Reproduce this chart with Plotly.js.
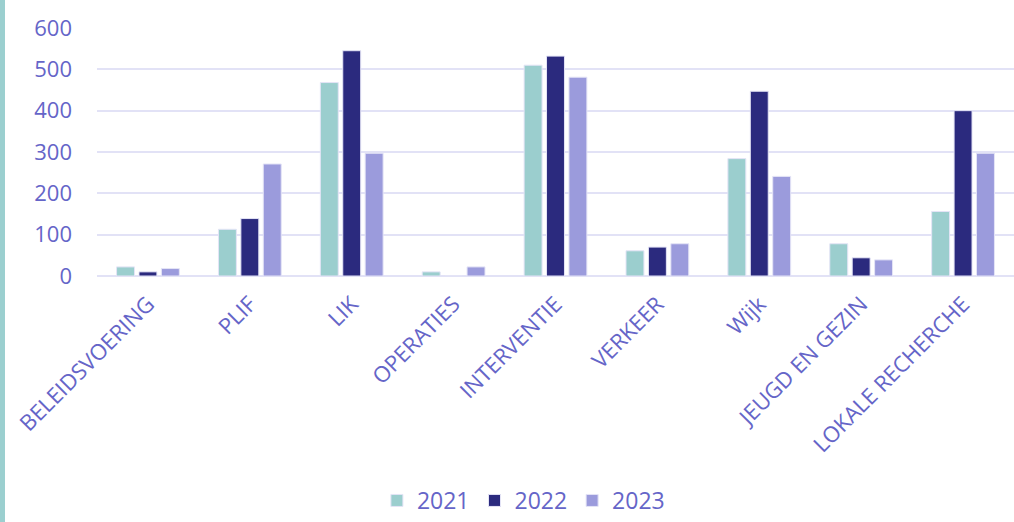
<!DOCTYPE html>
<html>
<head>
<meta charset="utf-8">
<script src="https://cdn.plot.ly/plotly-3.0.1.min.js"></script>
<style>
  html, body { margin: 0; padding: 0; background: #ffffff; }
  #chart { width: 1014px; height: 522px; }
  #edge { position: absolute; left: 0; top: 0; width: 5px; height: 522px; background: #9BCFCF; z-index: 10; }
</style>
</head>
<body>
<div id="edge"></div>
<div id="chart"></div>
<script>
const categories = ["BELEIDSVOERING", "PLIF", "LIK", "OPERATIES", "INTERVENTIE", "VERKEER", "Wijk", "JEUGD EN GEZIN", "LOKALE RECHERCHE"];
const values2021 = [22, 113, 468, 10, 510, 61, 284, 78, 156];
const values2022 = [10, 139, 545, 0, 532, 70, 447, 44, 400];
const values2023 = [18, 271, 297, 22, 481, 78, 241, 39, 297];
const seriesNames = ["2021", "2022", "2023"];
const yTicks = [0, 100, 200, 300, 400, 500, 600];

const colors = ["#9BCECE", "#2B2A7E", "#9B9BDC"];
const textColor = "#6565C8";
const font = "'Open Sans', 'DejaVu Sans', sans-serif";

const allValues = [values2021, values2022, values2023];
const traces = allValues.map((vals, i) => ({
  type: "bar",
  name: seriesNames[i],
  x: categories,
  y: vals,
  marker: { color: colors[i], line: { color: "#E4E4F6", width: 1 } },
  hoverinfo: "x+y+name"
}));

const layout = {
  width: 1014,
  height: 522,
  margin: { l: 97, r: 0, t: 28, b: 246 },
  paper_bgcolor: "#ffffff",
  plot_bgcolor: "#ffffff",
  barmode: "group",
  bargap: 0.34,
  bargroupgap: 0.2,
  font: { family: font, color: textColor, size: 20 },
  xaxis: {
    type: "category",
    tickangle: -45,
    tickfont: { family: font, size: 22, color: textColor },
    showgrid: false,
    showline: false,
    zeroline: false,
    ticks: "",
    ticklabelstandoff: 10
  },
  yaxis: {
    range: [0, 600],
    tickvals: yTicks,
    ticktext: yTicks.map(String),
    tickfont: { family: font, size: 22, color: textColor },
    showgrid: true,
    gridcolor: "#E2E2F6",
    gridwidth: 2,
    zeroline: true,
    zerolinecolor: "#E2E2F6",
    zerolinewidth: 2,
    showline: false,
    ticks: "",
    ticklabelstandoff: 24
  },
  legend: {
    orientation: "h",
    x: 0.465,
    xanchor: "center",
    y: 0,
    yref: "container",
    yanchor: "bottom",
    font: { family: font, size: 23, color: textColor },
    itemwidth: 30,
    traceorder: "normal"
  },
  showlegend: true
};

Plotly.newPlot("chart", traces, layout, { displayModeBar: false, staticPlot: true });
</script>
</body>
</html>
